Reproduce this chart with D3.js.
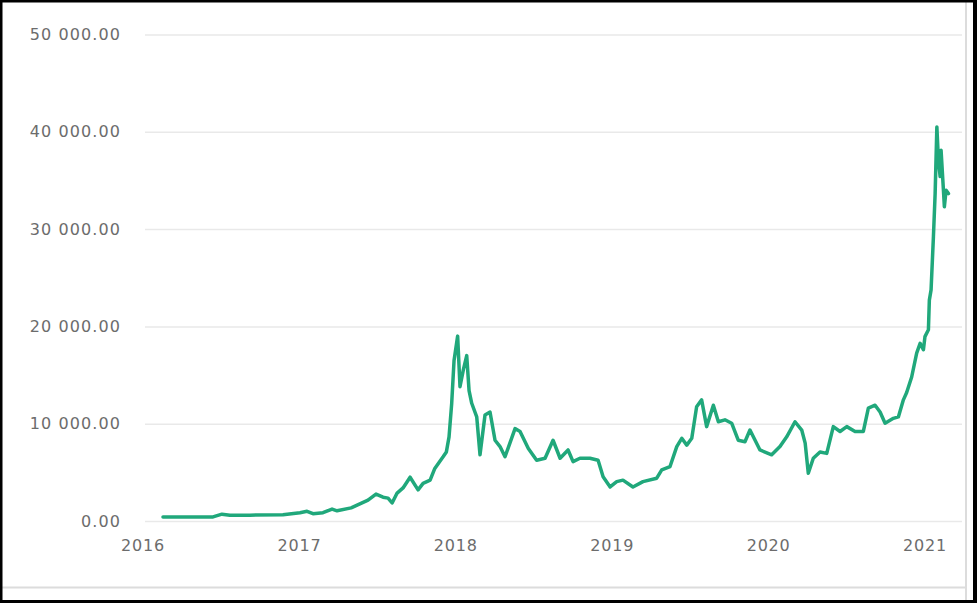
<!DOCTYPE html>
<html>
<head>
<meta charset="utf-8">
<script src="https://cdn.jsdelivr.net/npm/d3@7"></script>
<style>
  html, body { margin: 0; padding: 0; background: #fff; }
  svg { display: block; }
  text { font-family: "DejaVu Sans", Verdana, sans-serif; }
</style>
</head>
<body>
<svg id="chart" width="977" height="603"></svg>
<script>
// ---- data ----
const dates = [
  2016.131, 2016.300, 2016.451, 2016.508, 2016.559, 2016.687, 2016.898, 2017.007, 2017.052, 2017.090,
  2017.154, 2017.212, 2017.244, 2017.334, 2017.442, 2017.493, 2017.538, 2017.570, 2017.596, 2017.628,
  2017.666, 2017.711, 2017.762, 2017.794, 2017.839, 2017.869, 2017.922, 2017.943, 2017.960,
  2017.977, 2017.992, 2018.015, 2018.030, 2018.051, 2018.073,
  2018.088, 2018.105, 2018.137, 2018.158, 2018.190, 2018.222, 2018.254, 2018.286, 2018.318,
  2018.382, 2018.414, 2018.467, 2018.520, 2018.574, 2018.625, 2018.670, 2018.721, 2018.753,
  2018.797, 2018.861, 2018.913, 2018.945, 2018.990, 2019.032, 2019.072, 2019.136, 2019.200,
  2019.288, 2019.320, 2019.373, 2019.416, 2019.448, 2019.480, 2019.512, 2019.543, 2019.575,
  2019.607, 2019.650, 2019.682, 2019.724, 2019.767, 2019.809, 2019.852, 2019.884, 2019.948,
  2020.023, 2020.076, 2020.119, 2020.172, 2020.215, 2020.237, 2020.257, 2020.289, 2020.332,
  2020.375, 2020.417, 2020.460, 2020.503, 2020.556, 2020.609, 2020.641, 2020.684, 2020.716,
  2020.748, 2020.801, 2020.833, 2020.865, 2020.886, 2020.918, 2020.950, 2020.972, 2020.993,
  2021.003, 2021.025, 2021.031, 2021.042, 2021.057, 2021.068, 2021.079, 2021.089, 2021.100,
  2021.106, 2021.121, 2021.127, 2021.138, 2021.153
];
const prices = [
  400, 420, 420, 700, 600, 600, 650, 850, 1000, 750,
  850, 1230, 1050, 1350, 2150, 2770, 2450, 2350, 1850, 2870,
  3400, 4500, 3200, 3870, 4200, 5400, 6600, 7100, 8650,
  12100, 16500, 19000, 13800, 15500, 17000,
  13400, 12100, 10700, 6800, 10900, 11200, 8300, 7650, 6600,
  9500, 9200, 7450, 6250, 6450, 8300, 6450, 7300, 6100,
  6450, 6450, 6250, 4550, 3500, 4050, 4200, 3500, 4050,
  4400, 5250, 5600, 7650, 8500, 7800, 8500, 11750, 12450,
  9700, 11900, 10200, 10400, 10050, 8300, 8150, 9350, 7300,
  6800, 7650, 8650, 10200, 9350, 8000, 4900, 6450, 7100,
  6950, 9700, 9200, 9700, 9200, 9200, 11600, 11900, 11200,
  10050, 10550, 10700, 12450, 13200, 14800, 17250, 18250, 17600,
  18950, 19650, 22700, 23750, 29200, 33650, 40500, 37100, 35400,
  38100, 34000, 32300, 34000, 33650
];
const yTicks = [0, 10000, 20000, 30000, 40000, 50000];
const xTicks = [2016, 2017, 2018, 2019, 2020, 2021];

// ---- drawing ----
const svg = d3.select("#chart");
const W = 977, H = 603;

const x = d3.scaleLinear().domain([2016, 2021]).range([142.5, 924.5]);
const y = d3.scaleLinear().domain([0, 50000]).range([521, 34.5]);

const loc = d3.formatLocale({decimal: ".", thousands: " ", grouping: [3], currency: ["", ""]});
const fmtY = loc.format(",.2f");

svg.append("rect").attr("width", W).attr("height", H).attr("fill", "#fff");

// gridlines
const grid = svg.append("g").attr("transform", "translate(145,0)")
  .call(d3.axisRight(y).tickValues(yTicks).tickSize(817).tickFormat(""));
grid.select(".domain").remove();
grid.selectAll(".tick line").attr("stroke", "#e9e9e9").attr("stroke-width", 1.5);

// y labels
const yAx = svg.append("g").attr("transform", "translate(145,0)")
  .call(d3.axisLeft(y).tickValues(yTicks).tickSize(0).tickPadding(24).tickFormat(fmtY));
yAx.select(".domain").remove();
yAx.selectAll("text").attr("font-size", 16).attr("fill", "#6c6c6c")
  .attr("font-family", "'DejaVu Sans', Verdana, sans-serif")
  .style("letter-spacing", "1.1px");

// x labels
const xAx = svg.append("g").attr("transform", "translate(0,521)")
  .call(d3.axisBottom(x).tickValues(xTicks).tickSize(0).tickPadding(18.5).tickFormat(d3.format("d")));
xAx.select(".domain").remove();
xAx.selectAll("text").attr("font-size", 16).attr("fill", "#6c6c6c")
  .attr("font-family", "'DejaVu Sans', Verdana, sans-serif")
  .style("letter-spacing", "0.8px");

// line
const pts = dates.map((d, i) => [d, prices[i]]);
svg.append("path")
  .datum(pts)
  .attr("fill", "none")
  .attr("stroke", "#20a87b")
  .attr("stroke-width", 3.5)
  .attr("stroke-linejoin", "round")
  .attr("stroke-linecap", "round")
  .attr("d", d3.line().x(d => x(d[0])).y(d => y(d[1])));

// frame lines
svg.append("line").attr("x1", 966).attr("x2", 966).attr("y1", 0).attr("y2", 600)
  .attr("stroke", "#dcdcdc").attr("stroke-width", 2);
svg.append("line").attr("x1", 0).attr("x2", 966).attr("y1", 587.5).attr("y2", 587.5)
  .attr("stroke", "#dcdcdc").attr("stroke-width", 2);
// outer black border
svg.append("rect").attr("x", 0).attr("y", 0).attr("width", 2.5).attr("height", H).attr("fill", "#000");
svg.append("rect").attr("x", 0).attr("y", 0).attr("width", W).attr("height", 2.5).attr("fill", "#000");
svg.append("rect").attr("x", 973).attr("y", 0).attr("width", 4).attr("height", H).attr("fill", "#000");
svg.append("rect").attr("x", 0).attr("y", 600).attr("width", W).attr("height", 3).attr("fill", "#000");
</script>
</body>
</html>
